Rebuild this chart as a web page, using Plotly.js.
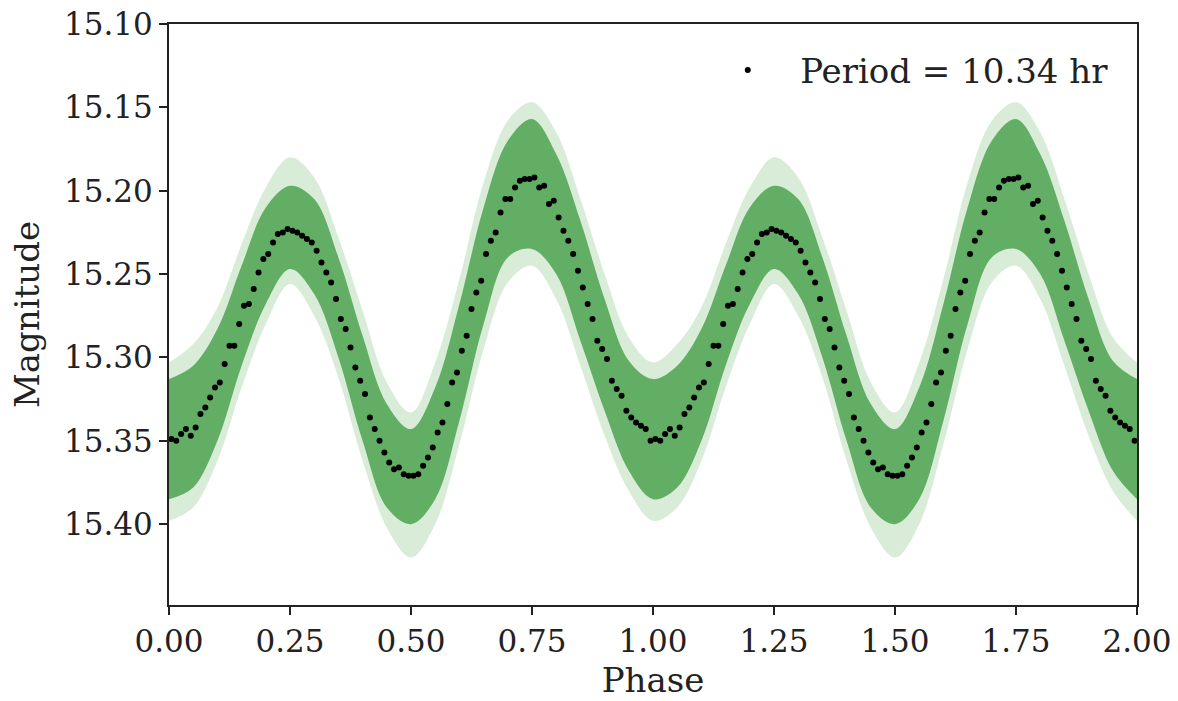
<!DOCTYPE html>
<html>
<head>
<meta charset="utf-8">
<script src="https://cdn.plot.ly/plotly-3.0.1.min.js"></script>
<style>html,body{margin:0;padding:0;background:#fff;}#chart{width:1178px;height:701px;}</style>
</head>
<body>
<div id="chart"></div>
<script>
// Binned (phase-folded) magnitudes, one cycle, bin centres 0.005 ... 0.995
const binPhase = [0.005,0.015,0.025,0.035,0.045,0.055,0.065,0.075,0.085,0.095,
  0.105,0.115,0.125,0.135,0.145,0.155,0.165,0.175,0.185,0.195,
  0.205,0.215,0.225,0.235,0.245,0.255,0.265,0.275,0.285,0.295,
  0.305,0.315,0.325,0.335,0.345,0.355,0.365,0.375,0.385,0.395,
  0.405,0.415,0.425,0.435,0.445,0.455,0.465,0.475,0.485,0.495,
  0.505,0.515,0.525,0.535,0.545,0.555,0.565,0.575,0.585,0.595,
  0.605,0.615,0.625,0.635,0.645,0.655,0.665,0.675,0.685,0.695,
  0.705,0.715,0.725,0.735,0.745,0.755,0.765,0.775,0.785,0.795,
  0.805,0.815,0.825,0.835,0.845,0.855,0.865,0.875,0.885,0.895,
  0.905,0.915,0.925,0.935,0.945,0.955,0.965,0.975,0.985,0.995];
const binMag = [15.349,15.350,15.346,15.343,15.347,15.342,15.334,15.330,15.324,15.318,
  15.315,15.304,15.293,15.293,15.280,15.269,15.268,15.259,15.249,15.241,
  15.238,15.231,15.226,15.225,15.223,15.224,15.225,15.227,15.229,15.231,
  15.236,15.243,15.249,15.255,15.265,15.277,15.283,15.294,15.306,15.314,
  15.322,15.336,15.343,15.350,15.357,15.363,15.367,15.366,15.370,15.371,
  15.371,15.370,15.365,15.360,15.354,15.345,15.339,15.328,15.315,15.309,
  15.296,15.287,15.271,15.261,15.254,15.238,15.230,15.225,15.213,15.205,
  15.205,15.198,15.194,15.193,15.193,15.192,15.198,15.197,15.208,15.206,
  15.216,15.224,15.230,15.238,15.248,15.258,15.268,15.277,15.290,15.295,
  15.301,15.314,15.319,15.323,15.332,15.336,15.339,15.341,15.343,15.350];

// Envelope of the raw (green) measurements, read at phase steps of 0.05
const envPhase = [0,0.05,0.10,0.15,0.20,0.25,0.30,0.35,0.40,0.45,0.50,
  0.55,0.60,0.65,0.70,0.75,0.80,0.85,0.90,0.95,1.00];
const coreTop = [15.313,15.305,15.283,15.245,15.210,15.197,15.205,15.240,15.287,15.328,15.343,
  15.318,15.268,15.210,15.170,15.157,15.178,15.218,15.265,15.302,15.313];
const coreBottom = [15.385,15.378,15.350,15.305,15.268,15.247,15.262,15.300,15.350,15.390,15.400,
  15.385,15.338,15.280,15.240,15.235,15.250,15.290,15.332,15.368,15.385];
const haloTop = [15.303,15.292,15.270,15.232,15.198,15.180,15.192,15.228,15.272,15.315,15.333,
  15.303,15.253,15.195,15.158,15.147,15.165,15.205,15.250,15.288,15.303];
const haloBottom = [15.398,15.390,15.362,15.318,15.280,15.256,15.275,15.312,15.362,15.402,15.420,
  15.400,15.352,15.295,15.255,15.245,15.265,15.305,15.347,15.380,15.398];

const xTickVals = [0,0.25,0.5,0.75,1,1.25,1.5,1.75,2];
const xTickText = ['0.00','0.25','0.50','0.75','1.00','1.25','1.50','1.75','2.00'];
const yTickVals = [15.10,15.15,15.20,15.25,15.30,15.35,15.40];
const yTickText = ['15.10','15.15','15.20','15.25','15.30','15.35','15.40'];
const legendLabel = 'Period = 10.34 hr';

// the light curve is plotted over two cycles (phase and phase + 1)
function twoCyclesX(p, dropFirst){ const q = dropFirst ? p.slice(1) : p; return p.concat(q.map(v => v + 1)); }
function twoCyclesY(v, dropFirst){ const q = dropFirst ? v.slice(1) : v; return v.concat(q); }

const envX = twoCyclesX(envPhase, true);
const band = (y, fill, color) => ({
  x: envX, y: twoCyclesY(y, true), type: 'scatter', mode: 'lines',
  line: {width: 0, shape: 'spline', smoothing: 1}, fill: fill, fillcolor: color,
  hoverinfo: 'skip', showlegend: false
});

const traces = [
  band(haloBottom, 'none', 'rgba(0,0,0,0)'),
  band(haloTop, 'tonexty', 'rgba(60,160,60,0.2)'),
  band(coreBottom, 'none', 'rgba(0,0,0,0)'),
  band(coreTop, 'tonexty', 'rgba(55,152,60,0.74)'),
  {
    x: twoCyclesX(binPhase, false), y: twoCyclesY(binMag, false),
    type: 'scatter', mode: 'markers', name: '\u00a0\u00a0\u00a0' + legendLabel,
    marker: {color: '#000', size: 6}, cliponaxis: true
  }
];

const tickFont = {family: 'DejaVu Serif, serif', size: 31, color: '#222'};
const titleFont = {family: 'DejaVu Serif, serif', size: 34, color: '#222'};
const axisCommon = {
  showgrid: false, zeroline: false, showline: true, mirror: true,
  linecolor: '#222', linewidth: 2, ticks: 'outside', ticklen: 8, tickwidth: 2,
  tickcolor: '#222', tickfont: tickFont, automargin: false
};

const layout = {
  width: 1178, height: 701,
  margin: {l: 169, r: 41, t: 24, b: 96},
  paper_bgcolor: '#fff', plot_bgcolor: '#fff',
  font: tickFont,
  xaxis: Object.assign({}, axisCommon, {
    range: [0, 2], tickmode: 'array', tickvals: xTickVals, ticktext: xTickText,
    title: {text: 'Phase', font: titleFont, standoff: 10}
  }),
  yaxis: Object.assign({}, axisCommon, {
    range: [15.4485, 15.10], tickmode: 'array', tickvals: yTickVals, ticktext: yTickText,
    title: {text: 'Magnitude', font: titleFont, standoff: 14}
  }),
  showlegend: true,
  legend: {x: 0.976, y: 0.97, xanchor: 'right', yanchor: 'top', bgcolor: 'rgba(255,255,255,0)',
    font: titleFont}
};

Plotly.newPlot('chart', traces, layout, {displayModeBar: false, staticPlot: true});
</script>
</body>
</html>
